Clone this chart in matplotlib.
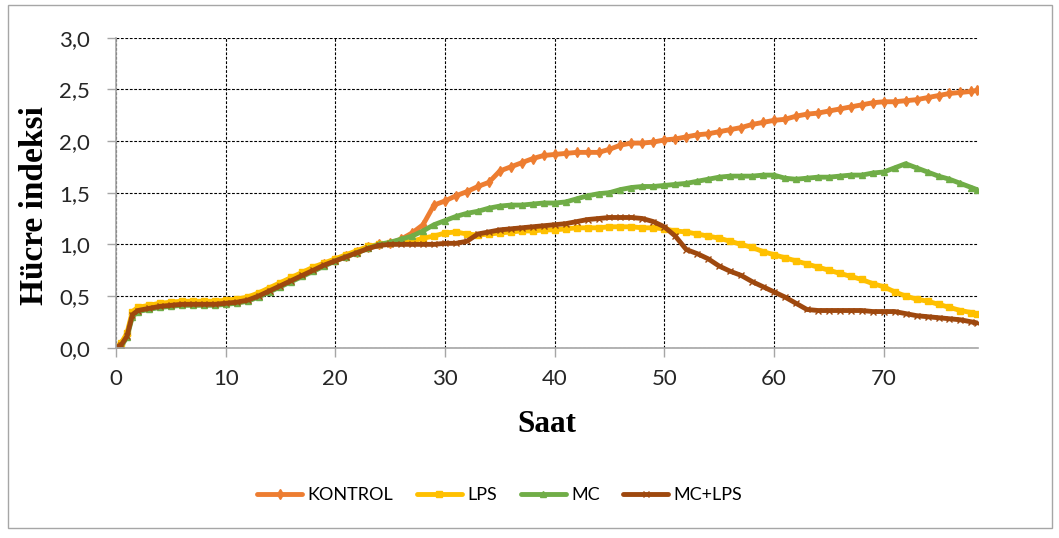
import matplotlib.pyplot as plt
from matplotlib.patches import Rectangle
from matplotlib.ticker import FuncFormatter

# Time points (hours)
saat = [0, 0.5, 1, 1.5, 2] + list(range(3, 79)) + [78.5]

# Shared growth phase 0-24 h (index 0..26)
kontrol = [0.0, 0.04, 0.12, 0.33, 0.37, 0.39, 0.41, 0.42, 0.43, 0.43, 0.43, 0.43, 0.44,
           0.45, 0.47, 0.51, 0.56, 0.61, 0.66, 0.71, 0.76, 0.81, 0.85, 0.89, 0.93, 0.97, 1.00,
           1.01, 1.05, 1.11, 1.19, 1.38, 1.42, 1.47, 1.51, 1.56, 1.60, 1.71, 1.75, 1.79, 1.83,
           1.86, 1.87, 1.88, 1.89, 1.89, 1.89, 1.92, 1.96, 1.98, 1.98, 1.99, 2.01, 2.02, 2.04,
           2.06, 2.07, 2.09, 2.11, 2.13, 2.16, 2.18, 2.20, 2.21, 2.24, 2.26, 2.27, 2.29, 2.31,
           2.33, 2.35, 2.37, 2.38, 2.38, 2.39, 2.40, 2.42, 2.44, 2.46, 2.47, 2.48, 2.49]

lps = [0.0, 0.05, 0.14, 0.35, 0.39, 0.41, 0.43, 0.44, 0.45, 0.45, 0.45, 0.45, 0.46,
       0.47, 0.49, 0.53, 0.58, 0.63, 0.68, 0.73, 0.78, 0.82, 0.86, 0.90, 0.94, 0.98, 1.00,
       1.01, 1.02, 1.03, 1.06, 1.08, 1.11, 1.12, 1.10, 1.09, 1.10, 1.11, 1.12, 1.13, 1.13,
       1.14, 1.14, 1.15, 1.16, 1.16, 1.16, 1.17, 1.17, 1.17, 1.16, 1.16, 1.15, 1.13, 1.12,
       1.10, 1.08, 1.06, 1.03, 1.00, 0.97, 0.93, 0.90, 0.87, 0.84, 0.81, 0.78, 0.75, 0.72,
       0.69, 0.66, 0.62, 0.59, 0.54, 0.50, 0.47, 0.45, 0.42, 0.39, 0.36, 0.34, 0.33]

mc = [0.0, 0.02, 0.10, 0.30, 0.35, 0.37, 0.39, 0.40, 0.41, 0.41, 0.41, 0.41, 0.42,
      0.43, 0.45, 0.49, 0.54, 0.59, 0.64, 0.69, 0.74, 0.79, 0.84, 0.88, 0.92, 0.96, 1.00,
      1.02, 1.05, 1.08, 1.13, 1.19, 1.23, 1.27, 1.30, 1.32, 1.35, 1.37, 1.38, 1.38, 1.39,
      1.40, 1.40, 1.41, 1.44, 1.47, 1.49, 1.50, 1.53, 1.55, 1.56, 1.56, 1.57, 1.58, 1.59,
      1.61, 1.63, 1.65, 1.66, 1.66, 1.66, 1.67, 1.67, 1.64, 1.63, 1.64, 1.65, 1.65, 1.66,
      1.67, 1.67, 1.69, 1.70, 1.74, 1.78, 1.74, 1.70, 1.66, 1.63, 1.59, 1.55, 1.53]

mc_lps = [0.0, 0.03, 0.11, 0.32, 0.36, 0.38, 0.40, 0.41, 0.42, 0.42, 0.42, 0.42, 0.43,
          0.44, 0.46, 0.50, 0.55, 0.60, 0.65, 0.70, 0.75, 0.80, 0.84, 0.88, 0.92, 0.96, 0.99,
          1.00, 1.00, 1.00, 1.00, 1.00, 1.01, 1.01, 1.03, 1.10, 1.12, 1.14, 1.15, 1.16, 1.17,
          1.18, 1.19, 1.20, 1.22, 1.24, 1.25, 1.26, 1.26, 1.26, 1.25, 1.22, 1.17, 1.08, 0.95,
          0.91, 0.86, 0.79, 0.74, 0.70, 0.64, 0.59, 0.54, 0.49, 0.43, 0.37, 0.36, 0.36, 0.36,
          0.36, 0.36, 0.35, 0.35, 0.35, 0.33, 0.31, 0.30, 0.29, 0.28, 0.27, 0.25, 0.24]

series = [
    ("KONTROL", kontrol, "#ED7D31", "d"),
    ("LPS", lps, "#FFC000", "s"),
    ("MC", mc, "#70AD47", "^"),
    ("MC+LPS", mc_lps, "#9E480E", "x"),
]

plt.rcParams["font.family"] = ["Lato", "DejaVu Sans"]

fig = plt.figure(figsize=(10.59, 5.38), dpi=100)
ax = fig.add_axes([0.1095, 0.3537, 0.814, 0.5763])

for name, vals, color, mk in series:
    ax.plot(saat, vals, color=color, lw=3.5, marker=mk, markersize=5,
            markeredgewidth=1, label=name, solid_capstyle="round")

ax.set_xlim(0, 78.6)
ax.set_ylim(0, 3.0)
ax.set_xticks(range(0, 80, 10))
ax.set_yticks([0, 0.5, 1.0, 1.5, 2.0, 2.5, 3.0])
ax.yaxis.set_major_formatter(FuncFormatter(lambda v, p: f"{v:.1f}".replace(".", ",")))

ax.grid(True, color="black", linestyle=(0, (2.5, 1.5)), linewidth=0.8)
ax.set_axisbelow(True)
for s in ["top", "right"]:
    ax.spines[s].set_visible(False)
for s in ["left", "bottom"]:
    ax.spines[s].set_color("#a6a6a6")
    ax.spines[s].set_linewidth(1.2)
ax.tick_params(axis="both", colors="#a6a6a6", labelcolor="#262626", labelsize=16,
               length=6.5, width=1)
ax.tick_params(axis="x", pad=9)
ax.tick_params(axis="y", pad=12)

ax.set_ylabel("Hücre indeksi", family="Liberation Serif", fontweight="bold",
              fontsize=24)
ax.set_xlabel("Saat", family="Liberation Serif", fontweight="bold", fontsize=22.5)
ax.yaxis.set_label_coords(-0.095, 0.46)
ax.xaxis.set_label_coords(0.5, -0.2)
ax.yaxis.label.set_va("center")

fig.legend(loc="center", bbox_to_anchor=(0.472, 0.08), ncol=4, frameon=False,
           fontsize=13, handlelength=2.5, columnspacing=1.3, handletextpad=0.3)

fig.patches.append(Rectangle((0.0075, 0.0186), 0.986, 0.972, transform=fig.transFigure,
                             fill=False, edgecolor="#a6a6a6", linewidth=1))

fig.savefig("out.png", dpi=100)
